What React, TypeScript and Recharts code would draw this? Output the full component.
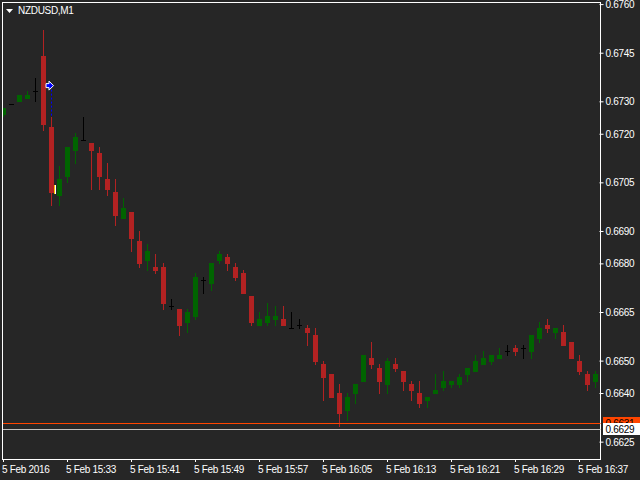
import { ComposedChart, Bar, XAxis, YAxis, ReferenceLine, ReferenceDot } from 'recharts';

const BG = '#262626';
const UP = '#006400';
const DOWN = '#b22222';
const DOJI = '#000000';
const FONT = '"Liberation Sans", sans-serif';

const opens = [
  0.67259, 0.67292, 0.67299, 0.67309, 0.67333, 0.67441, 0.67222, 0.67009, 0.67068, 0.67148,
  0.67182, 0.67173, 0.67142, 0.67062, 0.67022, 0.66939, 0.6696, 0.66871, 0.66809, 0.66791,
  0.66791, 0.6667, 0.66661, 0.66618, 0.66636, 0.6675, 0.66738, 0.66809, 0.66821, 0.66791,
  0.66772, 0.66701, 0.66609, 0.66618, 0.66627, 0.6663, 0.66602, 0.66612, 0.66602, 0.66581,
  0.66491, 0.66461, 0.66402, 0.66346, 0.66399, 0.66436, 0.6651, 0.66479, 0.66427, 0.66491,
  0.6647, 0.6643, 0.66402, 0.66377, 0.66399, 0.66417, 0.66427, 0.66427, 0.66457, 0.66467,
  0.66488, 0.66498, 0.66507, 0.66531, 0.66541, 0.66541, 0.66528, 0.66568, 0.66612, 0.66587,
  0.6659, 0.66559, 0.66501, 0.66461, 0.66436,
];
const highs = [
  0.67281, 0.67292, 0.67321, 0.67333, 0.67373, 0.67521, 0.67253, 0.67102, 0.67161, 0.67204,
  0.67253, 0.67173, 0.67161, 0.67111, 0.67062, 0.67003, 0.6696, 0.66902, 0.66861, 0.66831,
  0.66803, 0.66692, 0.66661, 0.66661, 0.66772, 0.6676, 0.66803, 0.6684, 0.66831, 0.66803,
  0.66781, 0.66701, 0.66652, 0.6668, 0.6667, 0.6667, 0.66652, 0.6663, 0.66612, 0.66602,
  0.66501, 0.66461, 0.6643, 0.66402, 0.6643, 0.66519, 0.66559, 0.66491, 0.6651, 0.6651,
  0.6647, 0.66439, 0.66439, 0.6639, 0.66461, 0.6647, 0.66439, 0.66461, 0.66479, 0.66519,
  0.66531, 0.66519, 0.66541, 0.6655, 0.6655, 0.6655, 0.66581, 0.66621, 0.6663, 0.66602,
  0.66612, 0.66559, 0.66519, 0.6647, 0.6647,
];
const lows = [
  0.67253, 0.67292, 0.67299, 0.67309, 0.67299, 0.6721, 0.66979, 0.66979, 0.6705, 0.67108,
  0.67179, 0.67028, 0.67028, 0.67009, 0.66917, 0.66939, 0.66837, 0.66787, 0.66778, 0.66769,
  0.66658, 0.66658, 0.66578, 0.66587, 0.66627, 0.66707, 0.66717, 0.668, 0.66778, 0.66747,
  0.66707, 0.66609, 0.66609, 0.66609, 0.66609, 0.66609, 0.66599, 0.66599, 0.66547, 0.66488,
  0.66377, 0.66387, 0.66297, 0.66316, 0.66368, 0.66436, 0.66476, 0.66399, 0.66399, 0.66467,
  0.66408, 0.66377, 0.66356, 0.66356, 0.66399, 0.66408, 0.66417, 0.66417, 0.66436, 0.66467,
  0.66488, 0.66488, 0.66507, 0.66516, 0.66516, 0.66507, 0.66507, 0.66556, 0.66587, 0.66568,
  0.66547, 0.66507, 0.66457, 0.66408, 0.66417,
];
const closes = [
  0.67281, 0.67292, 0.67321, 0.67321, 0.67333, 0.67228, 0.67019, 0.67062, 0.67161, 0.67191,
  0.67182, 0.67148, 0.67068, 0.67028, 0.66948, 0.66973, 0.66877, 0.668, 0.6684, 0.66778,
  0.66676, 0.6667, 0.66609, 0.66652, 0.6676, 0.6675, 0.66803, 0.66831, 0.668, 0.66757,
  0.66707, 0.66618, 0.6663, 0.66639, 0.66639, 0.66609, 0.66602, 0.66612, 0.66587, 0.66498,
  0.66448, 0.66387, 0.66337, 0.6639, 0.6643, 0.66519, 0.66488, 0.66436, 0.66501, 0.66476,
  0.66436, 0.66408, 0.66368, 0.6639, 0.66411, 0.66439, 0.66439, 0.66451, 0.66479, 0.66501,
  0.6651, 0.66519, 0.66519, 0.66531, 0.66528, 0.66541, 0.66581, 0.66602, 0.66599, 0.66602,
  0.66547, 0.66507, 0.66467, 0.66427, 0.66461,
];

const priceTicks = [0.676, 0.6745, 0.673, 0.672, 0.6705, 0.669, 0.668, 0.6665, 0.665, 0.664, 0.6625];
const timeTicks = ['15:25', '15:33', '15:41', '15:49', '15:57', '16:05', '16:13', '16:21', '16:29', '16:37'];
const timeLabels = [
  '5 Feb 2016', '5 Feb 15:33', '5 Feb 15:41', '5 Feb 15:49', '5 Feb 15:57',
  '5 Feb 16:05', '5 Feb 16:13', '5 Feb 16:21', '5 Feb 16:29', '5 Feb 16:37',
];

const askPrice = 0.66308;
const bidPrice = 0.6629;
const orderOpen = 0.6735;
const orderStop = 0.67253;
const orderClose = 0.6703;

function barTime(i: number) {
  const m = 15 * 60 + 25 + i;
  return `${Math.floor(m / 60)}:${String(m % 60).padStart(2, '0')}`;
}

const candles = opens.map((open, i) => ({
  time: barTime(i),
  open,
  close: closes[i],
  wick: [lows[i], highs[i]],
  body: [Math.min(open, closes[i]), Math.max(open, closes[i])],
}));

function candleColor(c: { open: number; close: number }) {
  if (c.close > c.open) return UP;
  if (c.close < c.open) return DOWN;
  return DOJI;
}

// recharts centres the bars half a pixel right of the band, hence x - 0.5
function Wick(props: any) {
  const { x, y, height, payload } = props;
  const top = Math.round(y);
  const h = Math.round(y + height) - top;
  if (h <= 0) return null;
  return <rect x={Math.round(x - 0.5)} y={top} width={1} height={h} fill={candleColor(payload)} clipPath="url(#plotClip)" />;
}

function Body(props: any) {
  const { x, y, width, height, payload } = props;
  const top = Math.round(y);
  const h = Math.max(Math.round(y + height) - top, 1);
  return <rect x={Math.round(x - 0.5)} y={top} width={width} height={h} fill={candleColor(payload)} clipPath="url(#plotClip)" />;
}

function PriceLine(props: any) {
  const { y1, x1, x2, stroke } = props;
  const y = Math.floor(y1) + 0.5;
  return <line x1={3} x2={Math.max(x1, x2) + 1} y1={y} y2={y} stroke={stroke} strokeWidth={1} />;
}

function PriceTag(props: any) {
  const y = Math.floor(props.viewBox.y);
  return (
    <g>
      <rect x={603} y={y - 6} width={37} height={12} fill={props.fill} />
      <text x={605.5} y={y + 4} fontFamily={FONT} fontSize={10} letterSpacing={-0.3} fill="#000000">
        {props.price.toFixed(4)}
      </text>
    </g>
  );
}

function OpenArrow({ cx, cy }: any) {
  const x = cx - 2.5;
  return (
    <polygon
      points={`${x - 3},${cy - 2} ${x},${cy - 2} ${x},${cy - 4.5} ${x + 4.5},${cy} ${x},${cy + 4.5} ${x},${cy + 2} ${x - 3},${cy + 2}`}
      fill="#0000ff"
      stroke="#ffffff"
      strokeWidth={1}
    />
  );
}

function CloseMark({ cx, cy }: any) {
  const x = Math.floor(cx) + 3;
  const y = Math.round(cy) - 4;
  return (
    <g>
      <rect x={x} y={y} width={1} height={9} fill="#ffc000" />
      <rect x={x + 1} y={y} width={1} height={9} fill="#ffffff" />
    </g>
  );
}

function TimeTick({ x, y, index }: any) {
  return (
    <text x={x - 1.5} y={y + 9} fontFamily={FONT} fontSize={10} letterSpacing={-0.3} fill="#ffffff">
      {timeLabels[index]}
    </text>
  );
}

export default function App() {
  return (
    <div style={{ position: 'absolute', left: 0, top: 0, width: 640, height: 480, background: BG }}>
      <ComposedChart
        width={640}
        height={480}
        data={candles}
        margin={{ top: 2, right: 0, bottom: 0, left: -0.5 }}
      >
        <defs>
          <clipPath id="plotClip">
            <rect x={3} y={3} width={597} height={456} />
          </clipPath>
        </defs>
        <XAxis
          dataKey="time"
          ticks={timeTicks}
          interval={0}
          height={21}
          axisLine={false}
          tickSize={3}
          tickLine={{ stroke: '#ffffff' }}
          tick={<TimeTick />}
        />
        <XAxis xAxisId="body" dataKey="time" hide />
        <YAxis
          orientation="right"
          width={40.5}
          domain={[0.66198, 0.67608]}
          allowDataOverflow
          ticks={priceTicks}
          interval={0}
          axisLine={false}
          tickSize={4}
          tickMargin={2}
          tickLine={{ stroke: '#ffffff' }}
          tick={{ fill: '#ffffff', fontSize: 10, fontFamily: FONT, letterSpacing: -0.3 }}
          tickFormatter={(v: number) => v.toFixed(4)}
        />
        <Bar dataKey="wick" barSize={1} shape={<Wick />} isAnimationActive={false} />
        <Bar xAxisId="body" dataKey="body" barSize={5} shape={<Body />} isAnimationActive={false} />
        <ReferenceLine
          y={askPrice}
          stroke="#ff4500"
          shape={<PriceLine />}
          label={<PriceTag fill="#ff4500" price={askPrice} />}
        />
        <ReferenceLine
          y={bidPrice}
          stroke="#c0c0c0"
          shape={<PriceLine />}
          label={<PriceTag fill="#ffffff" price={bidPrice} />}
        />
        <ReferenceLine
          segment={[{ x: candles[6].time, y: orderOpen }, { x: candles[6].time, y: orderStop }]}
          stroke="#0000ff"
          strokeDasharray="2 2"
        />
        <ReferenceDot x={candles[6].time} y={orderOpen} shape={<OpenArrow />} />
        <ReferenceDot x={candles[6].time} y={orderClose} shape={<CloseMark />} />
        <rect x={2.5} y={2.5} width={598} height={457} fill="none" stroke="#ffffff" />
        <polygon points="6,9 13,9 9.5,13" fill="#ffffff" />
        <text x={18} y={14} fontFamily={FONT} fontSize={10} letterSpacing={-0.3} fill="#ffffff">
          NZDUSD,M1
        </text>
      </ComposedChart>
    </div>
  );
}
